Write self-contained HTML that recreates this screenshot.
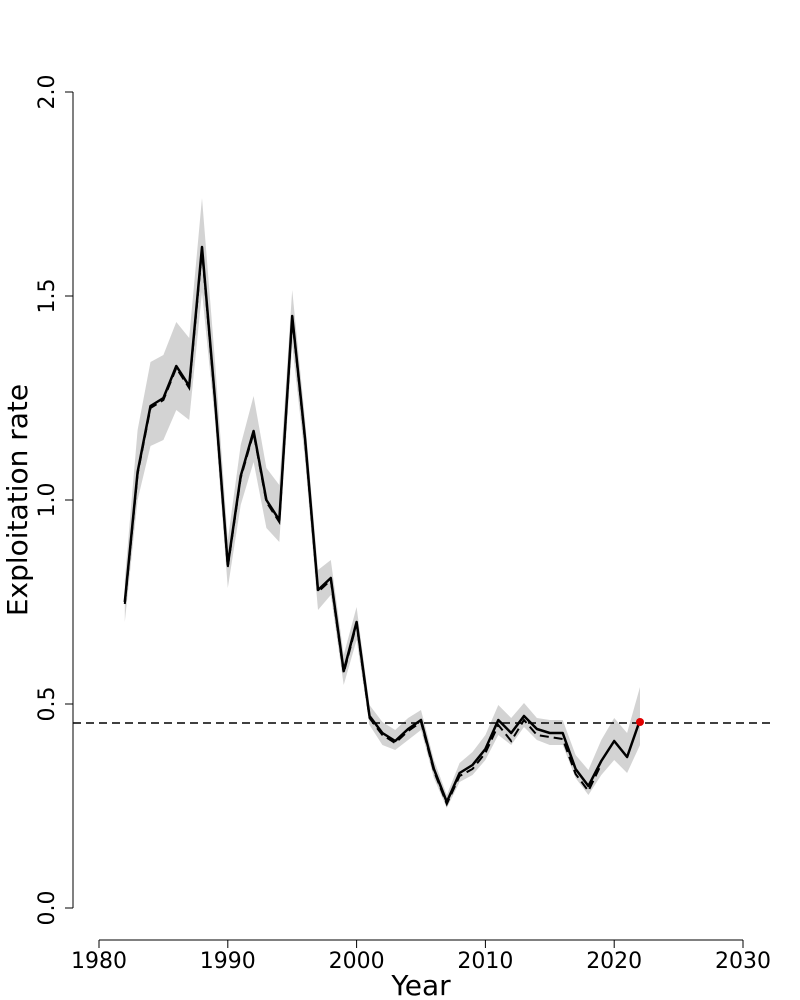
<!DOCTYPE html>
<html><head><meta charset="utf-8"><style>body{margin:0;background:#fff}svg{display:block}</style></head><body>
<svg width="800" height="1000" viewBox="0 0 800 1000" font-family="DejaVu Sans, sans-serif">
<rect width="800" height="1000" fill="#fff"/>
<polygon fill="#d3d3d3" points="124.8,580 137.6,430 150.5,362 163.4,355 176.3,322 189.2,338 202,198 214.9,360 227.8,540 240.7,445 253.6,396 266.4,468 279.3,485 292.2,290 305.1,420 318,570 330.8,560 343.7,655 356.6,607 369.5,705 382.4,722 395.2,730 408.1,718 421,710 433.9,760 446.8,795 459.6,763 472.5,752 485.4,735 498.3,705 511.2,718 524,703 536.9,718 549.8,720 562.7,720 575.6,755 588.4,770 601.3,740 614.2,718 627.1,733 640,687 640,745 627.1,773 614.2,760 601.3,775 588.4,795 575.6,778 562.7,745 549.8,745 536.9,740 524,727 511.2,745 498.3,735 485.4,760 472.5,775 459.6,782 446.8,808 433.9,778 421,730 408.1,740 395.2,750 382.4,745 369.5,725 356.6,640 343.7,685 330.8,595 318,610 305.1,460 292.2,345 279.3,542 266.4,528 253.6,462 240.7,505 227.8,588 214.9,420 202,292 189.2,420 176.3,410 163.4,440 150.5,446 137.6,500 124.8,622"/>
<line x1="73" y1="723" x2="770" y2="723" stroke="#000" stroke-width="1.5" stroke-dasharray="8,5"/>
<polyline fill="none" stroke="#000" stroke-width="2" stroke-dasharray="9,5" points="124.8,604 137.6,474 150.5,408 163.4,400 176.3,368 189.2,388 202,250 214.9,400 227.8,567 240.7,478 253.6,433 266.4,502 279.3,522 292.2,318 305.1,441 318,592 330.8,580 343.7,673 356.6,624 369.5,718 382.4,735 395.2,743 408.1,731 421,722 433.9,771 446.8,804 459.6,776 472.5,769 485.4,753 498.3,725 511.2,741 524,720 536.9,735 549.8,737 562.7,739 575.6,774 588.4,791 601.3,764"/>
<polyline fill="none" stroke="#000" stroke-width="2.5" stroke-linejoin="round" points="124.8,602 137.6,472 150.5,406 163.4,398 176.3,366 189.2,386 202,247 214.9,398 227.8,565 240.7,476 253.6,431 266.4,500 279.3,520 292.2,316 305.1,439 318,590 330.8,578 343.7,671 356.6,622 369.5,716 382.4,733 395.2,741 408.1,729 421,720 433.9,769 446.8,802 459.6,773 472.5,765 485.4,749 498.3,720 511.2,733 524,716 536.9,729 549.8,733 562.7,733 575.6,769 588.4,786 601.3,761 614.2,741 627.1,757 640,720"/>
<circle cx="640" cy="722" r="4" fill="#e00000"/>
<g stroke="#000" stroke-width="1">
<line x1="73" y1="92" x2="73" y2="908"/>
<line x1="65" y1="92" x2="73" y2="92"/><line x1="65" y1="296" x2="73" y2="296"/><line x1="65" y1="500" x2="73" y2="500"/><line x1="65" y1="704" x2="73" y2="704"/><line x1="65" y1="908" x2="73" y2="908"/>
<line x1="99" y1="940" x2="743" y2="940"/>
<line x1="99" y1="940" x2="99" y2="948"/><line x1="227.8" y1="940" x2="227.8" y2="948"/><line x1="356.6" y1="940" x2="356.6" y2="948"/><line x1="485.4" y1="940" x2="485.4" y2="948"/><line x1="614.2" y1="940" x2="614.2" y2="948"/><line x1="743" y1="940" x2="743" y2="948"/>
</g>
<g font-size="22" fill="#000" text-anchor="middle">
<text transform="translate(54,92) rotate(-90)">2.0</text>
<text transform="translate(54,296) rotate(-90)">1.5</text>
<text transform="translate(54,500) rotate(-90)">1.0</text>
<text transform="translate(54,704) rotate(-90)">0.5</text>
<text transform="translate(54,908) rotate(-90)">0.0</text>
<text x="99" y="968">1980</text><text x="227.8" y="968">1990</text><text x="356.6" y="968">2000</text><text x="485.4" y="968">2010</text><text x="614.2" y="968">2020</text><text x="743" y="968">2030</text>
</g>
<text x="421" y="995" font-size="28" text-anchor="middle">Year</text>
<text transform="translate(27,500) rotate(-90)" font-size="28" text-anchor="middle">Exploitation rate</text>
</svg>
</body></html>
